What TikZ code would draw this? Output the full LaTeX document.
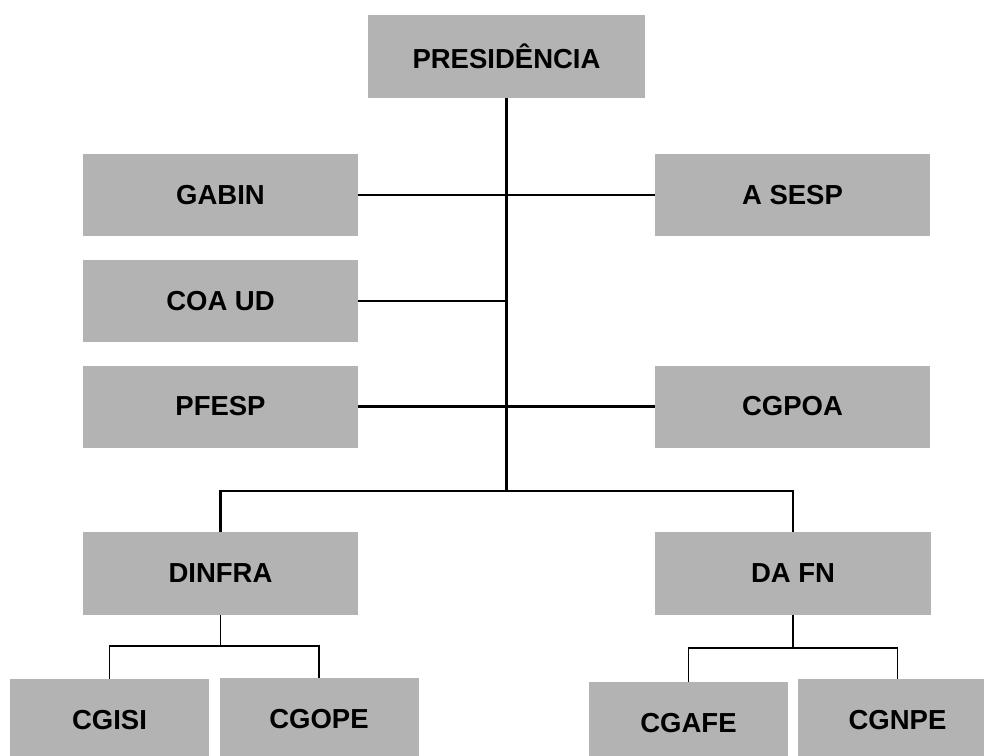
\documentclass[tikz,border=0pt]{standalone}
\usepackage{fontspec}
\setmainfont{Liberation Sans}
\definecolor{boxgray}{HTML}{B3B3B3}
\begin{document}
\begin{tikzpicture}[x=1pt,y=-1pt,
  unit/.style={fill=boxgray,draw=none,inner sep=0pt,minimum width=275pt,minimum height=82pt,
    font=\fontsize{27.5}{32}\selectfont\bfseries},
  subunit/.style={unit,minimum width=199pt,minimum height=83pt},
  link/.style={line width=2.2pt,draw=black},
  sublink/.style={line width=1.8pt,draw=black}]
\useasboundingbox (0,0) rectangle (984,755);
\clip (0,0) rectangle (984,755);
\node[unit,minimum width=277pt,minimum height=83pt] (pres) at (506.5,56.5) {PRESIDÊNCIA};
\node[unit] (gabin) at (220.5,195) {GABIN};
\node[unit] (asesp) at (792.5,195) {A SESP};
\node[unit] (coaud) at (220.5,301) {COA UD};
\node[unit] (pfesp) at (220.5,406.5) {PFESP};
\node[unit] (cgpoa) at (792.5,406.5) {CGPOA};
\node[unit,minimum height=83pt] (dinfra) at (220.5,573.5) {DINFRA};
\node[unit,minimum width=276pt,minimum height=83pt] (dafn) at (793,573.5) {DA FN};
\node[subunit] (cgisi) at (109.5,720.5) {CGISI};
\node[subunit] (cgope) at (319,719.5) {CGOPE};
\node[subunit] (cgafe) at (688.5,723.5) {CGAFE};
\node[subunit] (cgnpe) at (897.5,720.5) {CGNPE};
\coordinate (bus) at (506.5,491);
\coordinate (lbus) at (220.5,646);
\coordinate (rbus) at (793,648);
% main spine
\draw[link] (pres.south) -- (bus);
\draw[link] (gabin.east) -- (asesp.west);
\draw[link] (coaud.east) -- (coaud.east -| pres.south);
\draw[link] (pfesp.east) -- (cgpoa.west);
\draw[link] (dinfra.north) |- (bus) -| (dafn.north);
% DINFRA branch
\draw[sublink] (dinfra.south) -- (lbus);
\draw[sublink] (cgisi.north) |- (lbus) -| (cgope.north);
% DAFN branch
\draw[sublink] (dafn.south) -- (rbus);
\draw[sublink] (cgafe.north) |- (rbus) -| (cgnpe.north);
\end{tikzpicture}
\end{document}
